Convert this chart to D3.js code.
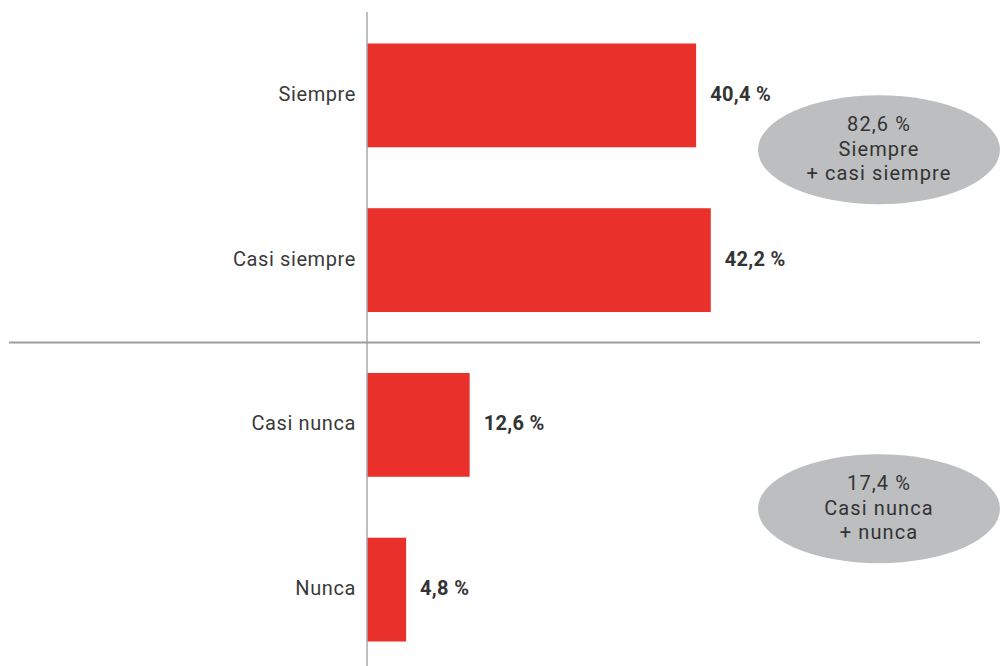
<!DOCTYPE html>
<html>
<head>
<meta charset="utf-8">
<script src="https://cdn.jsdelivr.net/npm/d3@7"></script>
<style>
  html, body { margin: 0; padding: 0; background: #fff; }
  svg { display: block; font-family: Roboto, "Open Sans", sans-serif; }
</style>
</head>
<body>
<svg id="chart" width="1000" height="666"></svg>
<script>
// Frequency answers and their shares (%)
const categories = ["Siempre", "Casi siempre", "Casi nunca", "Nunca"];
const values = [40.4, 42.2, 12.6, 4.8];

// Grouped totals shown in the grey ellipses
const groupTotals = [82.6, 17.4];
const groupLabels = [["Siempre", "+ casi siempre"], ["Casi nunca", "+ nunca"]];
const groupMembers = [["Siempre", "Casi siempre"], ["Casi nunca", "Nunca"]];

const fmt = v => d3.format(".1f")(v).replace(".", ",") + " %";

const svg = d3.select("#chart");
const W = 1000, H = 666;
const FS = 20, LS = "0.6px";

const x = d3.scaleLinear().domain([0, 75]).range([367, 978]);
const y = d3.scaleBand().domain(categories).range([13, 672])
  .paddingInner(0.37).paddingOuter(0.185);

// Bars
svg.append("g").selectAll("rect")
  .data(categories)
  .join("rect")
  .attr("x", x(0))
  .attr("y", d => y(d))
  .attr("width", (d, i) => x(values[i]) - x(0))
  .attr("height", y.bandwidth())
  .attr("fill", "#e9302a");

// Category axis (labels only, with vertical baseline)
const axis = svg.append("g")
  .attr("transform", `translate(${x(0)},0)`)
  .call(d3.axisLeft(y).tickSize(0).tickPadding(11));
axis.select(".domain").remove();
axis.selectAll("text")
  .attr("font-size", FS)
  .attr("letter-spacing", LS)
  .attr("font-family", "Roboto, sans-serif")
  .attr("dy", "0.28em")
  .attr("fill", "#3a3a3a");

svg.append("line")
  .attr("x1", x(0)).attr("x2", x(0))
  .attr("y1", 12).attr("y2", H)
  .attr("stroke", "#a8a9ab").attr("stroke-width", 1.5);

// Separator between the two answer groups
const sepY = (y("Casi siempre") + y.bandwidth() + y("Casi nunca")) / 2;
svg.append("line")
  .attr("x1", 9).attr("x2", 980)
  .attr("y1", sepY).attr("y2", sepY)
  .attr("stroke", "#9d9ea1").attr("stroke-width", 2);

// Value labels
svg.append("g").selectAll("text")
  .data(categories)
  .join("text")
  .attr("x", (d, i) => x(values[i]) + 14)
  .attr("y", d => y(d) + y.bandwidth() / 2)
  .attr("dy", "0.28em")
  .attr("font-size", FS)
  .attr("letter-spacing", "0.3px")
  .attr("font-weight", "bold")
  .attr("fill", "#333")
  .text((d, i) => fmt(values[i]));

// Group ellipses
const cx = 879;
const yOffsets = [-28, 1.5];
groupTotals.forEach((t, gi) => {
  const [a, b] = groupMembers[gi];
  const cy = (y(a) + y(b)) / 2 + y.bandwidth() / 2 + yOffsets[gi];
  svg.append("ellipse")
    .attr("cx", cx).attr("cy", cy)
    .attr("rx", 121).attr("ry", 54.5)
    .attr("fill", "#bdbec0");
  const lines = [fmt(t)].concat(groupLabels[gi]);
  svg.append("text")
    .attr("x", cx).attr("y", cy)
    .attr("text-anchor", "middle")
    .attr("font-size", FS)
    .attr("letter-spacing", "1.1px")
    .attr("fill", "#333")
    .selectAll("tspan")
    .data(lines)
    .join("tspan")
    .attr("x", cx)
    .attr("y", (d, i) => cy + (i - 1) * 24.5)
    .attr("dy", "0.3em")
    .text(d => d);
});
</script>
</body>
</html>
